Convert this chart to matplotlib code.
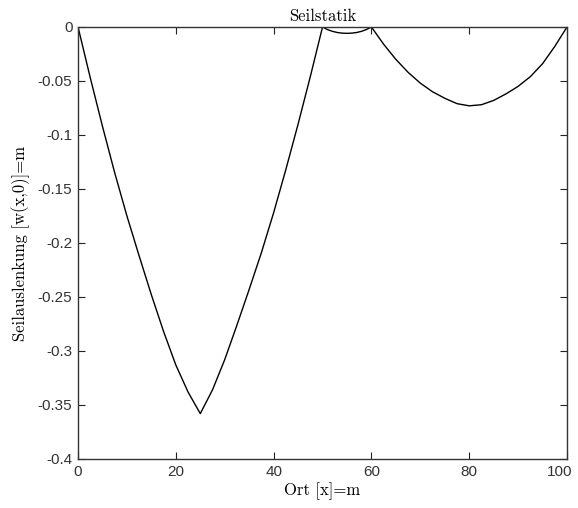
import matplotlib
matplotlib.use("Agg")
import matplotlib.pyplot as plt
from matplotlib.transforms import ScaledTranslation

# Ort x [m] und Seilauslenkung w(x,0) [m]
ort = [0, 2.5, 5, 7.5, 10, 12.5, 15, 17.5, 20, 22.5,
       25, 27.5, 30, 32.5, 35, 37.5, 40, 42.5, 45, 47.5,
       50, 51, 52, 53, 54, 55, 56, 57, 58, 59,
       60, 62.5, 65, 67.5, 70, 72.5, 75, 77.5, 80, 82.5,
       85, 87.5, 90, 92.5, 95, 97.5, 100]
auslenkung = [0, -0.047, -0.092, -0.135, -0.175, -0.212, -0.248, -0.282, -0.313, -0.338,
              -0.358, -0.336, -0.308, -0.276, -0.243, -0.209, -0.172, -0.132, -0.090, -0.046,
              0, -0.0024, -0.0040, -0.0051, -0.0057, -0.0059, -0.0057, -0.0051, -0.0040, -0.0023,
              0, -0.016, -0.030, -0.042, -0.052, -0.060, -0.066, -0.071, -0.073, -0.072,
              -0.068, -0.062, -0.055, -0.046, -0.034, -0.018, 0]

x_ticks = [0, 20, 40, 60, 80, 100]
y_ticks = [-0.4, -0.35, -0.3, -0.25, -0.2, -0.15, -0.1, -0.05, 0]
y_ticklabels = ['-0.4', '-0.35', '-0.3', '-0.25', '-0.2', '-0.15', '-0.1', '-0.05', '0']

fig = plt.figure(figsize=(5.78, 5.08), dpi=100)
ax = fig.add_axes([0.135, 0.0965, 0.846, 0.8504])

ax.plot(ort, auslenkung, color='black', linewidth=1.0)

ax.set_xlim(0, 100)
ax.set_ylim(-0.4, 0)
ax.set_xticks(x_ticks)
ax.set_xticklabels([str(t) for t in x_ticks], family='Liberation Sans')
ax.set_yticks(y_ticks)
ax.set_yticklabels(y_ticklabels, family='Liberation Sans')
ax.tick_params(direction='in', length=5, width=0.8, top=True, right=True,
               labelsize=11, pad=4, colors='#222222', labelcolor='#333333')
for s in ax.spines.values():
    s.set_linewidth(1.0)
    s.set_color('#333333')

# "100" etwas nach links, damit es nicht am Rand abgeschnitten wird
last = ax.get_xticklabels()[-1]
last.set_transform(last.get_transform() + ScaledTranslation(-5 / 72, 0, fig.dpi_scale_trans))

serif = dict(family='cmr10', fontsize=12)
ax.set_title('Seilstatik', pad=4, **serif)
ax.set_xlabel('Ort [x]=m', labelpad=3, **serif)
ax.set_ylabel('Seilauslenkung [w(x,0)]=m', labelpad=6, **serif)

fig.savefig('out.png', dpi=100)
